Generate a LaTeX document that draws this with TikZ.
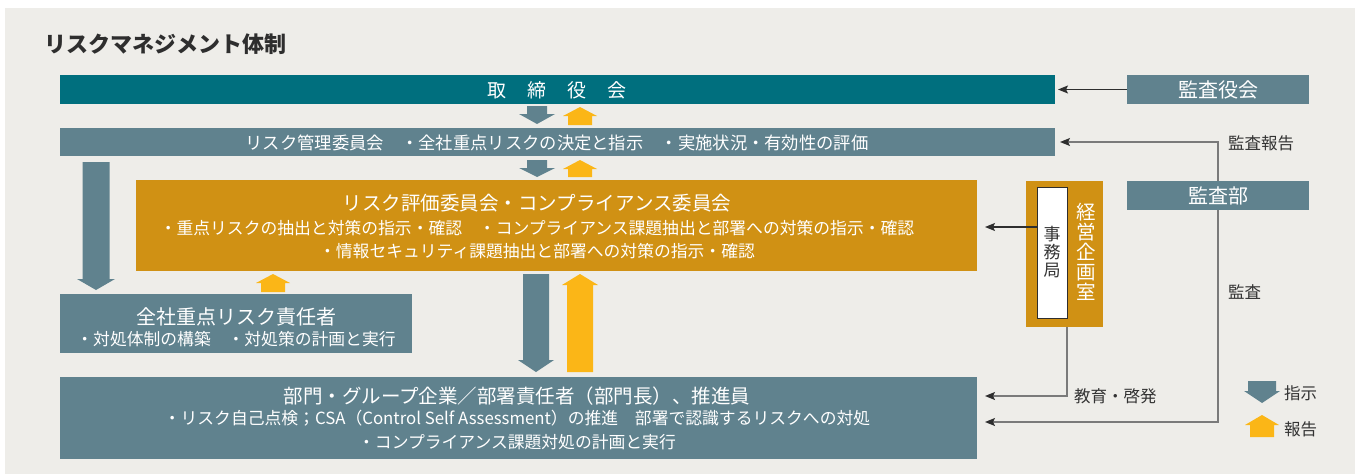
\documentclass[tikz,border=0pt]{standalone}
\usepackage{fontspec}
\setmainfont{Noto Sans CJK JP}
\usetikzlibrary{arrows.meta}
\definecolor{bgc}{HTML}{EEEDE9}
\definecolor{tealc}{HTML}{006F7E}
\definecolor{slatec}{HTML}{60828E}
\definecolor{orangec}{HTML}{D09114}
\definecolor{yellowc}{HTML}{FBB617}
\definecolor{darkc}{HTML}{2E2E2E}
\definecolor{grayc}{HTML}{7A7A7A}
\definecolor{labelc}{HTML}{333333}
\tikzset{
  base/.style={rectangle, inner sep=0pt, outer sep=0pt},
  tealbox/.style={base, fill=tealc},
  slatebox/.style={base, fill=slatec},
  orangebox/.style={base, fill=orangec},
  wtxt/.style={text=white, inner sep=0pt},
  bigf/.style={font=\fontsize{19.5}{21}\selectfont},
  midf/.style={font=\fontsize{16.8}{18}\selectfont},
  boxf/.style={font=\fontsize{20}{22}\selectfont},
  lbl/.style={text=labelc, inner sep=0pt, font=\fontsize{16.5}{18}\selectfont},
  tipk/.style={-{Stealth[length=10pt,width=8pt,inset=2pt,color=darkc]}},
  linkdark/.style={draw=darkc, line width=1.1pt, tipk},
  linkgray/.style={draw=grayc, line width=1.3pt, tipk},
  dnfill/.style={fill=slatec},
  upfill/.style={fill=yellowc},
  pics/dnarr/.style args={#1/#2/#3/#4}{code={
    \fill[dnfill] (-#2,0) -- (#2,0) -- (#2,#1-#4) -- (#3,#1-#4) -- (0,#1) -- (-#3,#1-#4) -- (-#2,#1-#4) -- cycle;}},
  pics/uparr/.style args={#1/#2/#3/#4}{code={
    \fill[upfill] (-#2,0) -- (#2,0) -- (#2,-#1+#4) -- (#3,-#1+#4) -- (0,-#1) -- (-#3,-#1+#4) -- (-#2,-#1+#4) -- cycle;}}
}
\begin{document}
\begin{tikzpicture}[x=1pt,y=-1pt]
\useasboundingbox (0,0) rectangle (1355,474);
\fill[white] (0,0) rectangle (1355,474);
\fill[bgc] (5,8) rectangle (1355,474);

% title
\node[anchor=west, inner sep=0pt, text=darkc, font=\fontsize{22}{24}\selectfont\bfseries] (title) at (44,44) {リスクマネジメント体制};

% main column
\node[tealbox, minimum width=995pt, minimum height=29pt] (board) at (557.5,89.5) {};
\node[wtxt, font=\fontsize{19}{21}\selectfont] (boardtxt) at (557,90) {取\hspace{21pt}締\hspace{21pt}役\hspace{21pt}会};

\node[slatebox, minimum width=995pt, minimum height=28pt] (risk) at (557.5,142) {};
\node[wtxt, font=\fontsize{17.3}{19}\selectfont] (risktxt) at (557,142.5) {リスク管理委員会　・全社重点リスクの決定と指示　・実施状況・有効性の評価};

\node[orangebox, minimum width=841pt, minimum height=91pt] (eval) at (556.5,225.5) {};
\node[wtxt, bigf] (evalt) at (537,203.5) {リスク評価委員会・コンプライアンス委員会};
\node[wtxt, midf] (evala) at (537,228.5) {・重点リスクの抽出と対策の指示・確認　・コンプライアンス課題抽出と部署への対策の指示・確認};
\node[wtxt, midf] (evalb) at (537,251) {・情報セキュリティ課題抽出と部署への対策の指示・確認};

\node[slatebox, minimum width=352pt, minimum height=59pt] (zensha) at (236,323.5) {};
\node[wtxt, boxf] (zensht) at (236,316.5) {全社重点リスク責任者};
\node[wtxt, midf] (zensha2) at (236,339.5) {・対処体制の構築　・対処策の計画と実行};

\node[slatebox, minimum width=917pt, minimum height=82pt] (bottom) at (518.5,418) {};
\node[wtxt, bigf] (bott) at (517,396) {部門・グループ企業／部署責任者（部門長）、推進員};
\node[wtxt, midf] (botta) at (517,418) {・リスク自己点検；CSA（Control Self Assessment）の推進　部署で認識するリスクへの対処};
\node[wtxt, midf] (bottb) at (517,442) {・コンプライアンス課題対処の計画と実行};

% right side
\node[orangebox, minimum width=77pt, minimum height=146pt] (keiei) at (1064.5,254) {};
\node[base, fill=white, draw=darkc, line width=1pt, minimum width=30pt, minimum height=131pt] (jimu) at (1052,252.5) {};
\node[inner sep=0pt, text=labelc, align=center, font=\fontsize{17}{18}\selectfont] (jimutxt) at (1052,252) {事\\務\\局};
\node[wtxt, align=center, font=\fontsize{19.5}{20}\selectfont] (keieitxt) at (1086,252) {経\\営\\企\\画\\室};

\node[slatebox, minimum width=182pt, minimum height=29pt] (kansayaku) at (1218,89.5) {};
\node[wtxt, boxf] (kansayakutxt) at (1218,90) {監査役会};
\node[slatebox, minimum width=182pt, minimum height=29pt] (kansabu) at (1218,195.5) {};
\node[wtxt, boxf] (kansabutxt) at (1218,196) {監査部};

% block arrows
\pic at (537,106) {dnarr=18/10/18/10};
\pic at (580,125) {uparr=18/12/17/9};
\pic at (537,160) {dnarr=17/10/18/9};
\pic at (580,177) {uparr=17/12/17/9};
\pic at (96,162) {dnarr=128/13.5/19/11};
\pic at (273,292) {uparr=18/12/17/9};
\pic at (536,274) {dnarr=98/13/18/12};
\pic at (580,372) {uparr=98/13/18/11};
\pic at (1262,381) {dnarr=22/14/18/12};
\pic at (1262,437) {uparr=22/12/17/10};

% connectors
\draw[linkdark, shorten >=3pt] (kansayaku.west) -- (board.east);
\draw[linkgray, shorten >=5pt] (kansabu.north) |- (risk.east);
\draw[linkgray, shorten >=8pt] (kansabu.south) |- ([yshift=-4pt]bottom.east);
\draw[linkgray, shorten >=8pt] (jimu.east |- keiei.south) |- ([yshift=22pt]bottom.east);
\draw[linkdark, shorten >=8pt] ([yshift=25.5pt]jimu.west) -- ([yshift=-1.5pt]eval.east);

% labels
\node[lbl, anchor=west] (lhoukoku) at (1228,143) {監査報告};
\node[lbl, anchor=west] (lkansa) at (1228,292) {監査};
\node[lbl, anchor=west] (lkyouiku) at (1074,396) {教育・啓発};
\node[lbl, anchor=west] (lshiji) at (1284,393) {指示};
\node[lbl, anchor=west] (lhoukoku2) at (1284,429) {報告};
\end{tikzpicture}
\end{document}
